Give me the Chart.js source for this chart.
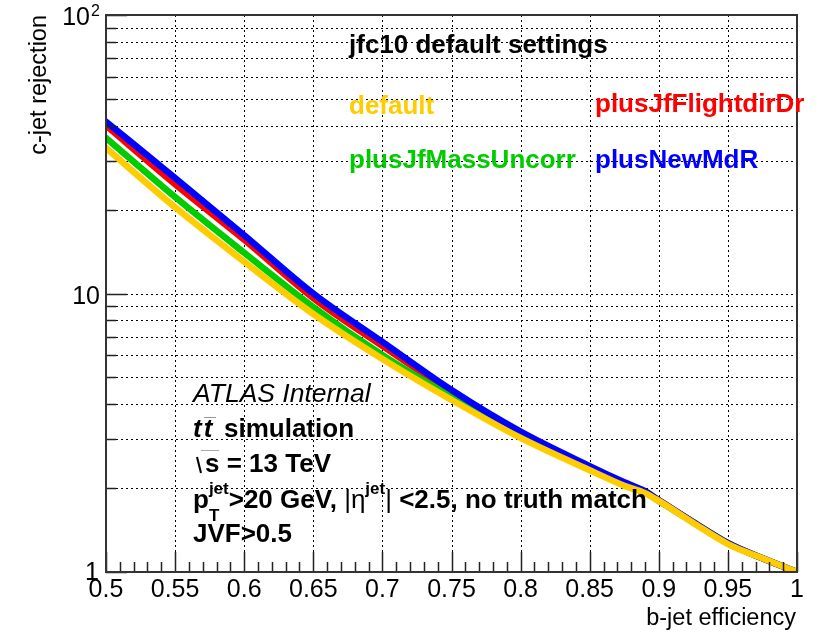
<!DOCTYPE html>
<html><head><meta charset="utf-8">
<script src="https://cdn.jsdelivr.net/npm/chart.js@4.4.0/dist/chart.umd.min.js"></script>
<style>html,body{margin:0;padding:0;background:#fff}#wrap{width:831px;height:632px;position:relative}</style>
</head><body><div id="wrap"><canvas id="c"></canvas></div>
<script>
// ---- data ----
const effX = [0.5, 0.55, 0.6, 0.65, 0.7, 0.75, 0.8, 0.85, 0.875, 0.89, 0.9, 0.925, 0.95, 0.975, 1.0];
const rejDefault           = [33.3, 20.4, 13.0, 8.44, 5.82, 4.15, 3.03, 2.32, 2.04, 1.92, 1.80, 1.50, 1.26, 1.12, 1.0];
const rejPlusJfFlightdirDr = [40.1, 24.7, 15.6, 9.63, 6.48, 4.43, 3.13, 2.38, 2.08, 1.94, 1.81, 1.51, 1.27, 1.12, 1.0];
const rejPlusJfMassUncorr  = [36.2, 22.2, 14.0, 8.94, 6.01, 4.25, 3.07, 2.35, 2.06, 1.93, 1.80, 1.51, 1.27, 1.12, 1.0];
const rejPlusNewMdR        = [41.4, 26.0, 16.2, 10.0, 6.70, 4.50, 3.19, 2.40, 2.10, 1.95, 1.81, 1.51, 1.27, 1.12, 1.0];
const seriesNames = ['default', 'plusJfFlightdirDr', 'plusJfMassUncorr', 'plusNewMdR'];
const seriesColors = ['#ffcc00', '#ff0000', '#00cc00', '#0000ff'];
const seriesOrder = [0, 3, 2, 1]; // lower = drawn on top
const xTicks = [0.5, 0.55, 0.6, 0.65, 0.7, 0.75, 0.8, 0.85, 0.9, 0.95, 1.0];
const xTickLabels = ['0.5', '0.55', '0.6', '0.65', '0.7', '0.75', '0.8', '0.85', '0.9', '0.95', '1'];
const yTicks = [1, 2, 3, 4, 5, 6, 7, 8, 9, 10, 20, 30, 40, 50, 60, 70, 80, 90, 100];
const yMajorTicks = [1, 10, 100];

const FONT = '"Liberation Sans", Arial, Helvetica, sans-serif';
const allSeries = [rejDefault, rejPlusJfFlightdirDr, rejPlusJfMassUncorr, rejPlusNewMdR];

function pts(arr) { return effX.map((x, i) => ({ x: x, y: arr[i] })); }

const datasets = allSeries.map((arr, i) => ({
  label: seriesNames[i],
  data: pts(arr),
  borderColor: seriesColors[i],
  backgroundColor: seriesColors[i],
  borderWidth: 6.5,
  borderCapStyle: 'round',
  borderJoinStyle: 'round',
  pointRadius: 0,
  fill: false,
  cubicInterpolationMode: 'monotone',
  order: seriesOrder[i]
}));

const gridPlugin = {
  id: 'gridPlugin',
  beforeDatasetsDraw(chart) {
    const ctx = chart.ctx;
    const xs = chart.scales.x, ys = chart.scales.y;
    const a = chart.chartArea;
    ctx.save();
    ctx.strokeStyle = '#000';
    ctx.lineWidth = 1;
    ctx.setLineDash([2, 3]);
    ctx.beginPath();
    for (const v of xTicks) {
      const px = Math.round(xs.getPixelForValue(v)) + 0.5;
      ctx.moveTo(px, a.top); ctx.lineTo(px, a.bottom);
    }
    for (const v of yTicks) {
      const py = Math.round(ys.getPixelForValue(v)) + 0.5;
      ctx.moveTo(a.left, py); ctx.lineTo(a.right, py);
    }
    ctx.stroke();
    ctx.restore();
  }
};

const decor = {
  id: 'decor',
  afterDatasetsDraw(chart) {
    const ctx = chart.ctx;
    const xs = chart.scales.x, ys = chart.scales.y;
    const a = chart.chartArea;
    ctx.save();
    // ticks
    ctx.strokeStyle = '#222';
    ctx.lineWidth = 1.5;
    ctx.beginPath();
    for (let k = 0; k <= 50; k++) {
      const v = 0.5 + k * 0.01;
      const px = Math.round(xs.getPixelForValue(v)) + 0.5;
      const len = (k % 5 === 0) ? 20 : 10;
      ctx.moveTo(px, a.bottom);
      ctx.lineTo(px, a.bottom - len);
    }
    for (const v of yTicks) {
      const py = Math.round(ys.getPixelForValue(v)) + 0.5;
      const len = yMajorTicks.includes(v) ? 21 : 10;
      ctx.moveTo(a.left, py);
      ctx.lineTo(a.left + len, py);
    }
    ctx.stroke();
    // frame
    ctx.strokeStyle = '#333';
    ctx.lineWidth = 2;
    ctx.strokeRect(a.left, a.top, a.right - a.left, a.bottom - a.top);

    // x tick labels
    ctx.fillStyle = '#000';
    ctx.font = '25px ' + FONT;
    ctx.textAlign = 'center';
    ctx.textBaseline = 'alphabetic';
    xTicks.forEach((v, i) => {
      ctx.fillText(xTickLabels[i], xs.getPixelForValue(v), a.bottom + 25);
    });
    // y tick labels
    ctx.textAlign = 'right';
    ctx.font = '25px ' + FONT;
    ctx.fillText('1', a.left - 7, ys.getPixelForValue(1) + 8);
    ctx.fillText('10', a.left - 6, ys.getPixelForValue(10) + 10);
    ctx.font = '16px ' + FONT;
    ctx.fillText('2', a.left - 6, ys.getPixelForValue(100) + 1);
    ctx.font = '25px ' + FONT;
    ctx.fillText('10', a.left - 16, ys.getPixelForValue(100) + 10);

    // axis titles
    ctx.font = '23.5px ' + FONT;
    ctx.textAlign = 'right';
    ctx.fillText('b-jet efficiency', a.right - 1, 625);
    ctx.save();
    ctx.translate(46, a.top);
    ctx.rotate(-Math.PI / 2);
    ctx.textAlign = 'right';
    ctx.fillText('c-jet rejection', 0, 0);
    ctx.restore();

    // header & legend text
    ctx.textAlign = 'left';
    ctx.font = 'bold 26px ' + FONT;
    ctx.fillStyle = '#000';
    ctx.fillText('jfc10 default settings', 349, 53);
    ctx.fillStyle = seriesColors[0]; ctx.fillText(seriesNames[0], 349, 114);
    ctx.fillStyle = seriesColors[1]; ctx.fillText(seriesNames[1], 595, 112);
    ctx.fillStyle = seriesColors[2]; ctx.fillText(seriesNames[2], 349, 168);
    ctx.fillStyle = seriesColors[3]; ctx.fillText(seriesNames[3], 595, 168);

    // ATLAS labels
    ctx.fillStyle = '#000';
    ctx.font = 'italic 26.5px ' + FONT;
    ctx.fillText('ATLAS Internal', 193, 402);
    // tt simulation
    ctx.font = 'italic bold 26px ' + FONT;
    ctx.fillText('t', 193, 437);
    const tw = ctx.measureText('t').width;
    ctx.fillText('t', 193 + tw + 2, 437);
    ctx.lineWidth = 1;
    ctx.strokeStyle = '#999';
    ctx.beginPath();
    ctx.moveTo(204, 417.5); ctx.lineTo(216, 417.5);
    ctx.stroke();
    ctx.font = 'bold 26px ' + FONT;
    ctx.fillText('simulation', 224, 437);
    // sqrt s
    ctx.strokeStyle = '#000';
    ctx.lineWidth = 2;
    ctx.beginPath();
    ctx.moveTo(197, 457); ctx.lineTo(201, 473);
    ctx.stroke();
    ctx.lineWidth = 1;
    ctx.strokeStyle = '#aaa';
    ctx.beginPath();
    ctx.moveTo(201, 450.5); ctx.lineTo(219, 450.5);
    ctx.stroke();
    ctx.fillText('s = 13 TeV', 205, 472);
    // pT line
    const B = 'bold 26px ' + FONT, S = 'bold 17px ' + FONT, R = '26px ' + FONT;
    let cx = 193;
    ctx.font = B; ctx.fillText('p', cx, 508); cx += ctx.measureText('p').width;
    ctx.font = S; ctx.fillText('jet', cx, 494); ctx.fillText('T', cx, 521);
    cx += ctx.measureText('jet').width;
    ctx.font = B; ctx.fillText('>20 GeV, ', cx, 508); cx += ctx.measureText('>20 GeV, ').width;
    ctx.font = R; ctx.fillText('|\u03b7', cx, 508); cx += ctx.measureText('|\u03b7').width;
    ctx.font = S; ctx.fillText('jet', cx, 494); cx += ctx.measureText('jet').width;
    ctx.font = R; ctx.fillText('|', cx, 508); cx += ctx.measureText('| ').width;
    ctx.font = B; ctx.fillText('<2.5, no truth match', cx, 508);
    // JVF
    ctx.fillText('JVF>0.5', 193, 542);
    ctx.restore();
  }
};

new Chart(document.getElementById('c'), {
  type: 'line',
  data: { datasets: datasets },
  options: {
    responsive: true,
    maintainAspectRatio: false,
    animation: false,
    layout: { padding: { left: 106, right: 34, top: 15, bottom: 60 } },
    plugins: { legend: { display: false }, tooltip: { enabled: false } },
    scales: {
      x: {
        type: 'linear', min: 0.5, max: 1.0,
        afterBuildTicks: (s) => { s.ticks = xTicks.map(v => ({ value: v })); },
        ticks: { display: false },
        grid: { display: false, drawTicks: false },
        border: { display: false }
      },
      y: {
        type: 'logarithmic', min: 1, max: 100,
        afterBuildTicks: (s) => { s.ticks = yTicks.map(v => ({ value: v })); },
        ticks: { display: false },
        grid: { display: false, drawTicks: false },
        border: { display: false }
      }
    }
  },
  plugins: [gridPlugin, decor]
});
</script>
</body></html>
